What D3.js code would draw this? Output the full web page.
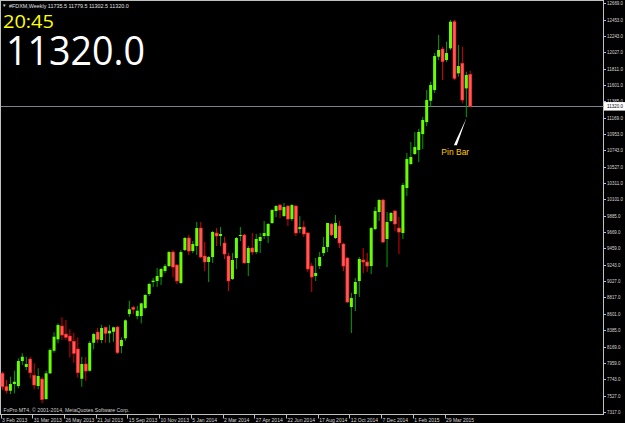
<!DOCTYPE html>
<head>
  <meta charset="utf-8">
  <script src="https://cdn.jsdelivr.net/npm/d3@7"></script>
  <style>
    body { margin:0; background:#000; }
    svg { display:block; font-family:"Liberation Sans", Arial, sans-serif; }
  </style>
</head>
<body>
<script>
// weekly FDXM bars, 3 Feb 2013 .. 10 May 2015
const opens = [7823,7648,7595,7683,7657,7984,7906,8010,7797,7657,
  7748,7487,7823,8119,8268,8442,8337,8311,8242,8141,
  7752,7945,7857,8223,8363,8259,8425,8346,8367,8429,
  8180,8281,8599,8687,8573,8573,8678,8861,9018,9031,
  9083,9162,9227,9410,9240,9005,9436,9594,9423,9489,
  9724,9358,9280,9345,9659,9620,9528,9358,9057,9332,
  9620,9633,9267,9463,9410,9554,9620,9620,9790,9947,
  10025,9881,10012,9842,10012,9711,9737,9659,9227,9096,
  9227,9397,9476,9777,9594,9751,9515,9332,8691,8861,
  9031,9306,9280,9227,9711,9934,10091,9581,9816,9947,
  9724,9659,10248,10562,10693,10745,10954,11111,11390,11530,
  11966,12067,11923,12076,12424,11749,11880,11552,11735.5];
const highs = [7844,7735,7779,7857,8019,8085,8040,8040,7954,7889,
  7779,7857,8150,8359,8477,8556,8520,8399,8354,8294,
  8040,8033,8246,8354,8416,8459,8433,8455,8433,8442,
  8294,8530,8773,8704,8704,8747,8861,9009,9070,9201,
  9201,9253,9423,9436,9253,9436,9607,9633,9554,9803,
  9803,9541,9358,9685,9724,9737,9607,9397,9397,9607,
  9737,9646,9489,9659,9646,9659,9816,9790,9973,10025,
  10038,10052,10025,10038,10025,9881,9816,9672,9267,9332,
  9410,9607,9790,9790,9895,9816,9528,9345,8874,9070,
  9345,9463,9397,9737,9999,10104,10104,9934,9934,9960,
  9868,10313,10706,10850,10981,11020,11177,11530,11639,12014,
  12250,12097,12162,12446,12446,12119,12097,11770,11779.5];
const lows = [7604,7561,7552,7561,7627,7932,7866,7758,7614,7614,
  7434,7474,7814,8093,8216,8259,8259,8033,7962,7766,
  7648,7726,7844,8137,8216,8216,8223,8223,8236,8076,
  8085,8250,8564,8599,8530,8477,8661,8835,8953,8953,
  8979,9136,9214,9083,8992,8992,9423,9371,9397,9371,
  9332,9162,9018,9267,9489,9489,9319,8900,9044,9188,
  9554,9260,9096,9371,9384,9397,9581,9528,9777,9868,
  9855,9868,9751,9816,9620,9659,9607,9149,8887,9031,
  9188,9358,9410,9620,9581,9463,9162,8743,8350,8638,
  8822,9136,9149,9123,9698,9816,9528,9214,9803,9685,
  9384,9581,10143,10549,10680,10588,10758,11059,11312,11491,
  11923,11661,11897,12054,11661,11704,11356,11173,11302.5];
const closes = [7648,7595,7683,7713,7984,8040,7945,7831,7670,7788,
  7480,7823,8128,8302,8455,8324,8294,8246,8085,7831,
  7945,7853,8220,8337,8268,8416,8346,8380,8425,8093,
  8259,8517,8661,8661,8642,8739,8848,8992,9035,9096,
  9188,9227,9410,9214,9031,9410,9594,9423,9515,9724,
  9345,9280,9345,9672,9620,9646,9384,9031,9306,9594,
  9633,9267,9463,9410,9581,9607,9659,9777,9960,10012,
  9960,9999,9842,10025,9659,9737,9646,9188,9083,9136,
  9345,9476,9790,9633,9790,9528,9227,8756,8808,9018,
  9319,9280,9227,9724,9947,10091,9541,9803,9921,9777,
  9672,10287,10627,10654,10784,10981,11138,11399,11596,11975,
  12054,11901,12014,12424,11683,11844,11399,11727,11320];

const dateLabels = ["3 Feb 2013","31 Mar 2013","26 May 2013","21 Jul 2013","15 Sep 2013",
  "10 Nov 2013","5 Jan 2014","2 Mar 2014","27 Apr 2014","22 Jun 2014","17 Aug 2014",
  "12 Oct 2014","7 Dec 2014","1 Feb 2015","29 Mar 2015"];
const weeksPerLabel = 8;
const priceTicks = [12669,12453,12243,12027,11811,11601,11385,11169,10953,10743,10527,
  10311,10101,9885,9669,9459,9243,9027,8817,8601,8385,8169,7959,7743,7527,7317];
const lastPrice = 11320.0;
const pinBarIndex = 117;
const headerText = "#FDXM,Weekly  11735.5 11779.5 11302.5 11320.0";
const clockText = "20:45";

const width = 625, height = 423;
const plotRight = 603.5, plotBottom = 414.5;

const bars = opens.map((o, i) => ({ i, o, h: highs[i], l: lows[i], c: closes[i] }));

const svg = d3.select("body").append("svg")
  .attr("width", width).attr("height", height)
  .style("background", "#000");

const x = d3.scaleLinear().domain([0, bars.length - 1]).range([2.5, 470.3]);
const y = d3.scaleLinear().domain([7317, 12669]).range([412, 3]);

// frame
svg.append("rect")
  .attr("x", 0.5).attr("y", 0.5)
  .attr("width", plotRight - 0.5).attr("height", plotBottom - 0.5)
  .attr("fill", "none").attr("stroke", "#c0c0c0");

// current price line
svg.append("line")
  .attr("x1", 1).attr("x2", plotRight)
  .attr("y1", Math.round(y(lastPrice)) + 0.5).attr("y2", Math.round(y(lastPrice)) + 0.5)
  .attr("stroke", "#7d848e");

// candles
const candle = svg.append("g").selectAll("g").data(bars).enter().append("g");
candle.append("line")
  .attr("x1", d => x(d.i)).attr("x2", d => x(d.i))
  .attr("y1", d => y(d.h)).attr("y2", d => y(d.l))
  .attr("stroke", d => d.c >= d.o ? "#00a000" : "#d80000")
  .attr("stroke-width", 1);
candle.append("rect")
  .attr("x", d => x(d.i) - 1.5)
  .attr("width", 3)
  .attr("y", d => y(Math.max(d.o, d.c)))
  .attr("height", d => Math.max(1, y(Math.min(d.o, d.c)) - y(Math.max(d.o, d.c))))
  .attr("fill", d => d.c >= d.o ? "#66ff00" : "#ff5a5a")
  .attr("stroke", d => d.c >= d.o ? "none" : "#ff1e1e")
  .attr("stroke-width", 0.6);

// pin bar annotation
const pb = bars[pinBarIndex];
const tipX = x(pb.i), tipY = y(pb.l) + 1;
svg.append("path")
  .attr("d", d3.line()([[tipX, tipY], [tipX - 12.5, tipY + 27], [tipX - 9.5, tipY + 27]]) + "Z")
  .attr("fill", "#ffffff");
svg.append("text")
  .attr("x", tipX - 25).attr("y", tipY + 37)
  .attr("fill", "#ffcc00")
  .attr("font-size", 8.5)
  .text("Pin Bar");

// right price axis
const py = svg.append("g");
py.selectAll("line").data(priceTicks).enter().append("line")
  .attr("x1", plotRight).attr("x2", plotRight + 2.5)
  .attr("y1", d => Math.round(y(d)) + 0.5).attr("y2", d => Math.round(y(d)) + 0.5)
  .attr("stroke", "#c0c0c0");
py.selectAll("text").data(priceTicks).enter().append("text")
  .attr("x", plotRight + 3.5).attr("y", d => y(d) + 2)
  .attr("fill", "#d8d8d8")
  .attr("font-size", 5)
  .attr("textLength", d => d >= 10000 ? 16 : 13.5)
  .attr("lengthAdjust", "spacingAndGlyphs")
  .text(d => d3.format(".1f")(d));

// last price tag
svg.append("rect")
  .attr("x", plotRight + 0.5).attr("y", y(lastPrice) - 4)
  .attr("width", width - plotRight).attr("height", 8.5)
  .attr("fill", "#ffffff");
svg.append("text")
  .attr("x", plotRight + 3.5).attr("y", y(lastPrice) + 2.2)
  .attr("fill", "#000")
  .attr("font-size", 5)
  .attr("textLength", 16)
  .attr("lengthAdjust", "spacingAndGlyphs")
  .text(d3.format(".1f")(lastPrice));

// bottom time axis
const tickIdx = dateLabels.map((_, k) => k * weeksPerLabel);
const tx = svg.append("g");
tx.selectAll("line").data(tickIdx).enter().append("line")
  .attr("x1", d => Math.round(x(d) - 2) + 0.5).attr("x2", d => Math.round(x(d) - 2) + 0.5)
  .attr("y1", plotBottom).attr("y2", plotBottom + 4)
  .attr("stroke", "#c0c0c0");
tx.selectAll("text").data(tickIdx).enter().append("text")
  .attr("x", d => x(d) - 0.5).attr("y", 421.5)
  .attr("fill", "#d8d8d8")
  .attr("font-size", 5)
  .text((d, k) => dateLabels[k]);

// header, clock and big price
svg.append("text").attr("x", 2).attr("y", 7).attr("fill", "#d8d8d8")
  .attr("font-size", 4.5).text("▼");
svg.append("text").attr("x", 9).attr("y", 7.5).attr("fill", "#e0e0e0")
  .attr("font-size", 5.4).text(headerText);
svg.append("text").attr("x", 3).attr("y", 27.5).attr("fill", "#ffff00")
  .style("font-family", "'Open Sans', sans-serif")
  .attr("font-size", 19)
  .attr("textLength", 51).attr("lengthAdjust", "spacingAndGlyphs")
  .text(clockText);
svg.append("text").attr("x", 6).attr("y", 65).attr("fill", "#ffffff")
  .style("font-family", "'Open Sans', sans-serif")
  .attr("font-size", 41)
  .attr("textLength", 139).attr("lengthAdjust", "spacingAndGlyphs")
  .text(d3.format(".1f")(lastPrice));

// copyright
svg.append("text").attr("x", 3.5).attr("y", 411.5).attr("fill", "#d0d0d0")
  .attr("font-size", 5.2).text("FxPro MT4, © 2001-2014, MetaQuotes Software Corp.");
</script>
</body>
